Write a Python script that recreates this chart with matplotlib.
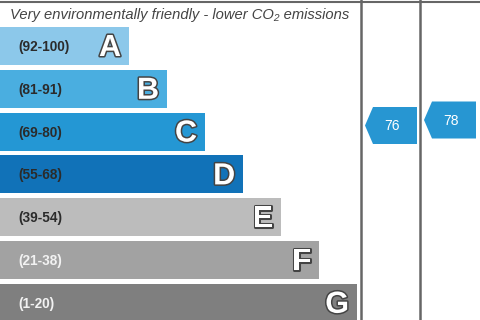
import matplotlib
matplotlib.use("Agg")
import matplotlib.pyplot as plt
import matplotlib.patheffects as pe
from matplotlib.patches import Polygon

# band data
letters = ["A", "B", "C", "D", "E", "F", "G"]
ranges = ["(92-100)", "(81-91)", "(69-80)", "(55-68)", "(39-54)", "(21-38)", "(1-20)"]
band_colors = ["#8cc8ea", "#4aaee0", "#2497d4", "#1172b8", "#bcbcbc", "#a2a2a2", "#7f7f7f"]
range_colors = ["#2b2b2b", "#2b2b2b", "#2b2b2b", "#2b2b2b", "#2b2b2b", "#f2f2f2", "#f2f2f2"]

# current / potential ratings
current = 76
potential = 78

header = "Very environmentally friendly - lower CO\u2082 emissions"

fig = plt.figure(figsize=(4.8, 3.2), dpi=100)
ax = fig.add_axes([0, 0, 1, 1])
ax.set_xlim(0, 480)
ax.set_ylim(320, 0)
ax.axis("off")

font = ["Liberation Sans", "DejaVu Sans"]

# bars
top, pitch, bh = 27, 42.8, 38
ys = [top + bh / 2 + pitch * i for i in range(len(letters))]
widths = [129 + 38 * i for i in range(len(letters))]
ax.barh(ys, widths, height=bh, left=0, color=band_colors, edgecolor="none")

for y, w, let, rng, rc in zip(ys, widths, letters, ranges, range_colors):
    ax.text(18, y + 1, rng, ha="left", va="center", fontsize=9.8, fontweight="bold",
            color=rc, family=font)
    ax.text(w - 8, y + 2, let, ha="right", va="center", fontsize=22, fontweight="bold",
            color="white", family=font,
            path_effects=[pe.withStroke(linewidth=2.2, foreground="#444444")])

ax.text(10, 15, header, ha="left", va="center", fontsize=10.6, style="italic",
        color="#444444", family=font)

# frame lines
ax.axhline(1.5, color="#666666", lw=1.5)
for x in (361, 420):
    ax.axvline(x, color="#666666", lw=1.8)


def score_y(v):
    # map a rating to a vertical pixel position
    return 334.5 - 2.75 * v


def arrow(x0, x1, v):
    yc = score_y(v)
    h = 37
    pts = [(x0, yc), (x0 + 8, yc - h / 2), (x1, yc - h / 2), (x1, yc + h / 2), (x0 + 8, yc + h / 2)]
    ax.add_patch(Polygon(pts, closed=True, facecolor="#2796d2", edgecolor="none"))
    ax.text((x0 + x1) / 2 + 1, yc + 1, str(v), ha="center", va="center", fontsize=10,
            color="white", family=font)


arrow(365, 417, current)
arrow(424, 476, potential)

fig.savefig("out.png", dpi=100)
